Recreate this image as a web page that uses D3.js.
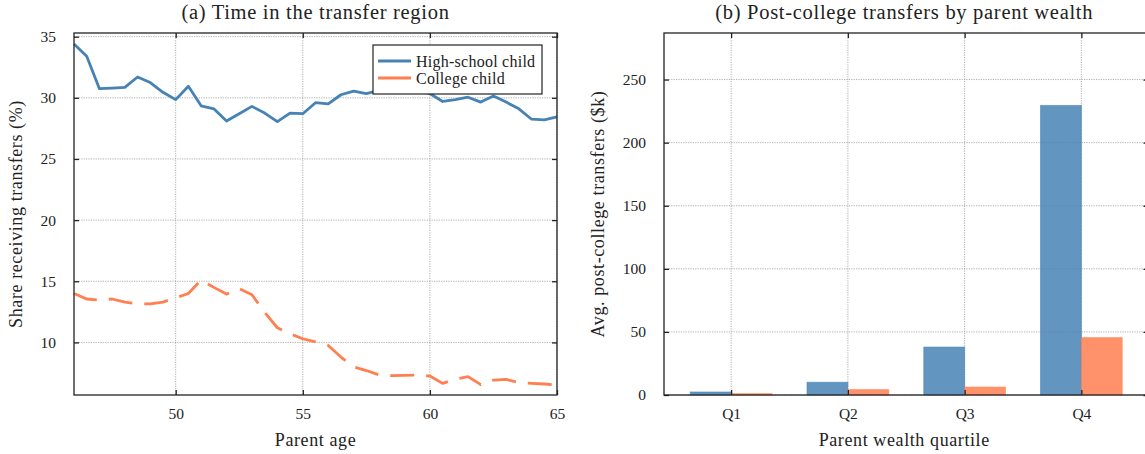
<!DOCTYPE html>
<html>
<head>
<meta charset="utf-8">
<script src="https://cdn.jsdelivr.net/npm/d3@7"></script>
<style>
  body { margin: 0; background: #fff; }
  svg text { font-family: "Liberation Serif", "Times New Roman", serif; fill: #222; }
</style>
</head>
<body>
<svg id="chart"></svg>
<script>
// ---- data ----
const ages = [46, 46.5, 47, 47.5, 48, 48.5, 49, 49.5, 50, 50.5, 51, 51.5, 52, 52.5, 53, 53.5,
  54, 54.5, 55, 55.5, 56, 56.5, 57, 57.5, 58, 58.5, 59, 59.5, 60, 60.5, 61, 61.5, 62, 62.5,
  63, 63.5, 64, 64.5, 65];
const highSchoolShare = [34.4, 33.4, 30.75, 30.8, 30.85, 31.7, 31.25, 30.45, 29.85, 30.95,
  29.35, 29.1, 28.1, 28.7, 29.3, 28.75, 28.05, 28.75, 28.7, 29.6, 29.5, 30.25, 30.55, 30.35,
  30.6, 30.8, 30.5, 30.6, 30.35, 29.7, 29.85, 30.05, 29.65, 30.15, 29.65, 29.1, 28.25, 28.2, 28.45];
const collegeShare = [14.0, 13.55, 13.45, 13.55, 13.3, 13.15, 13.15, 13.3, 13.65, 14.0,
  15.1, 14.5, 13.95, 14.4, 13.9, 12.45, 11.2, 10.7, 10.3, 10.05, 9.75, 8.8, 8.0, 7.7,
  7.35, 7.28, 7.3, 7.33, 7.25, 6.65, 7.0, 7.2, 6.55, 6.92, 6.97, 6.72, 6.65, 6.6, 6.5];
const ageTicks = [50, 55, 60, 65];
const shareTicks = [10, 15, 20, 25, 30, 35];

const quartiles = ["Q1", "Q2", "Q3", "Q4"];
const highSchoolTransfers = [2.4, 10.1, 38.0, 229.5];
const collegeTransfers = [1.1, 4.3, 6.3, 45.5];
const transferTicks = [0, 50, 100, 150, 200, 250];

const seriesNames = ["High-school child", "College child"];
const blue = "#4682b4", orange = "#ff7f50";

// ---- layout ----
const W = 1145, H = 454;
const plotTop = 33, plotBottom = 395;
const svg = d3.select("#chart").attr("width", W).attr("height", H);
svg.append("rect").attr("width", W).attr("height", H).attr("fill", "#fff");

function grid(g, x0, x1, xTickPos, yTickPos, xs, ys) {
  // dotted grid
  g.append("g").selectAll("line").data(xTickPos).join("line")
    .attr("x1", d => xs(d)).attr("x2", d => xs(d)).attr("y1", plotTop).attr("y2", plotBottom)
    .attr("stroke", "#9a9a9a").attr("stroke-width", 0.8).attr("stroke-dasharray", "1.2,1.2");
  g.append("g").selectAll("line").data(yTickPos).join("line")
    .attr("x1", x0).attr("x2", x1).attr("y1", d => ys(d)).attr("y2", d => ys(d))
    .attr("stroke", "#9a9a9a").attr("stroke-width", 0.8).attr("stroke-dasharray", "1.2,1.2");
}

function spines(g, x0, x1, xTickPos, yTickPos, xs, ys, xFmt) {
  const tk = 5;
  const ax = g.append("g").attr("class", "axes");
  // bottom & left axes with labels, ticks pointing inward
  ax.append("g").attr("transform", `translate(0,${plotBottom})`)
    .call(d3.axisBottom(xs).tickValues(xTickPos).tickSizeInner(-tk).tickSizeOuter(0).tickPadding(17).tickFormat(xFmt))
    .call(s => s.select(".domain").remove())
    .call(s => s.selectAll("text").style("font-size", "15.5px").attr("dy", "0.45em"));
  ax.append("g").attr("transform", `translate(${x0},0)`)
    .call(d3.axisLeft(ys).tickValues(yTickPos).tickSizeInner(-tk).tickSizeOuter(0).tickPadding(18))
    .call(s => s.select(".domain").remove())
    .call(s => s.selectAll("text").style("font-size", "15.5px"));
  ax.append("g").attr("transform", `translate(0,${plotTop})`)
    .call(d3.axisTop(xs).tickValues(xTickPos).tickSizeInner(-tk).tickSizeOuter(0).tickFormat(""))
    .call(s => s.select(".domain").remove());
  ax.append("g").attr("transform", `translate(${x1},0)`)
    .call(d3.axisRight(ys).tickValues(yTickPos).tickSizeInner(-tk).tickSizeOuter(0).tickFormat(""))
    .call(s => s.select(".domain").remove());
  ax.selectAll(".tick line").attr("stroke", "#222").attr("stroke-width", 1.3);
  ax.selectAll(".tick text").attr("fill", "#222");
  g.append("rect").attr("x", x0).attr("y", plotTop).attr("width", x1 - x0).attr("height", plotBottom - plotTop)
    .attr("fill", "none").attr("stroke", "#222").attr("stroke-width", 1.3);
}

// ---- panel (a) ----
const ax0 = 74, ax1 = 557;
const xA = d3.scaleLinear().domain([46, 65]).range([ax0, ax1]);
const yA = d3.scaleLinear().domain([5.7, 35.3]).range([plotBottom, plotTop]);
const gA = svg.append("g");
grid(gA, ax0, ax1, ageTicks, shareTicks, xA, yA);

const line = d3.line().x(d => xA(d[0])).y(d => yA(d[1]));
gA.append("path").datum(d3.zip(ages, highSchoolShare)).attr("d", line)
  .attr("fill", "none").attr("stroke", blue).attr("stroke-width", 2.8).attr("stroke-linejoin", "round");
gA.append("path").datum(d3.zip(ages, collegeShare)).attr("d", line)
  .attr("fill", "none").attr("stroke", orange).attr("stroke-width", 2.8)
  .attr("stroke-dasharray", "24,12").attr("stroke-linejoin", "round");

spines(gA, ax0, ax1, ageTicks, shareTicks, xA, yA, d3.format("d"));

// legend
const leg = gA.append("g").attr("transform", "translate(373,45)");
leg.append("rect").attr("width", 169).attr("height", 49).attr("fill", "#fff")
  .attr("stroke", "#222").attr("stroke-width", 1.2);
[blue, orange].forEach((c, i) => {
  leg.append("line").attr("x1", 5).attr("x2", 38).attr("y1", 16 + i * 17).attr("y2", 16 + i * 17)
    .attr("stroke", c).attr("stroke-width", 2.8);
  leg.append("text").attr("x", 43).attr("y", 16 + i * 17).attr("dy", "0.35em")
    .style("font-size", "16px").style("letter-spacing", "0.25px").text(seriesNames[i]);
});

gA.append("text").attr("x", (ax0 + ax1) / 2).attr("y", 19).attr("text-anchor", "middle")
  .style("font-size", "20.5px").style("letter-spacing", "0.7px").text("(a) Time in the transfer region");
gA.append("text").attr("x", (ax0 + ax1) / 2).attr("y", 446).attr("text-anchor", "middle")
  .style("font-size", "18px").style("letter-spacing", "0.6px").text("Parent age");
gA.append("text").attr("transform", `translate(22,${(plotTop + plotBottom) / 2}) rotate(-90)`)
  .attr("text-anchor", "middle").style("font-size", "18px").style("letter-spacing", "0.6px")
  .text("Share receiving transfers (%)");

// ---- panel (b) ----
const bx0 = 664, bx1 = 1148.5;
const xB = d3.scaleLinear().domain([-0.575, 3.575]).range([bx0, bx1]);
const yB = d3.scaleLinear().domain([0, 286.9]).range([plotBottom, plotTop]);
const gB = svg.append("g");
grid(gB, bx0, bx1, d3.range(quartiles.length), transferTicks, xB, yB);

const bw = 0.35;
[[highSchoolTransfers, blue, -bw], [collegeTransfers, orange, 0]].forEach(([vals, c, off]) => {
  gB.append("g").selectAll("rect").data(vals).join("rect")
    .attr("x", (d, i) => xB(i + off)).attr("width", xB(bw) - xB(0))
    .attr("y", d => yB(d)).attr("height", d => yB(0) - yB(d))
    .attr("fill", c).attr("fill-opacity", 0.85)
    .attr("stroke", c).attr("stroke-opacity", 0.55).attr("stroke-width", 1);
});

spines(gB, bx0, bx1, d3.range(quartiles.length), transferTicks, xB, yB, i => quartiles[i]);

gB.append("text").attr("x", (bx0 + bx1) / 2 - 2).attr("y", 19).attr("text-anchor", "middle")
  .style("font-size", "20.5px").style("letter-spacing", "0.7px").text("(b) Post-college transfers by parent wealth");
gB.append("text").attr("x", (bx0 + bx1) / 2 - 2).attr("y", 446).attr("text-anchor", "middle")
  .style("font-size", "18px").style("letter-spacing", "0.6px").text("Parent wealth quartile");
gB.append("text").attr("transform", `translate(604,${(plotTop + plotBottom) / 2}) rotate(-90)`)
  .attr("text-anchor", "middle").style("font-size", "18px").style("letter-spacing", "0.6px")
  .text("Avg. post-college transfers ($k)");
</script>
</body>
</html>
